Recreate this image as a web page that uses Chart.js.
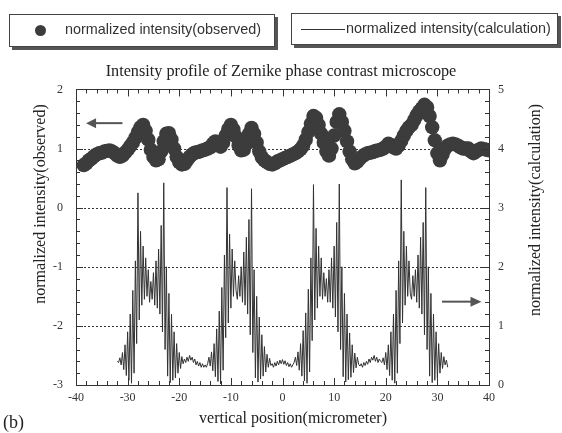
<!DOCTYPE html>
<html>
<head>
<meta charset="utf-8">
<script src="https://cdn.jsdelivr.net/npm/chart.js"></script>
<style>
  body { margin: 0; background: #fff; }
  #wrap { position: relative; width: 562px; height: 433px; }
  .lg {
    position: absolute; background: #fff; border: 1px solid #444;
    box-shadow: 3px 3px 0 #555; font: 14.4px "Liberation Sans", Arial, sans-serif; color: #333;
  }
  .lg span { position: absolute; top: 6px; white-space: nowrap; }
</style>
</head>
<body>
<div id="wrap">
  <canvas id="chart" width="562" height="433"></canvas>
  <div class="lg" style="left:9px; top:14px; width:264px; height:31px;">
    <div style="position:absolute; left:25px; top:10px; width:11px; height:11px; border-radius:50%; background:#3c3c3c;"></div>
    <span style="left:55px;">normalized intensity(observed)</span>
  </div>
  <div class="lg" style="left:291px; top:13px; width:265px; height:30px;">
    <div style="position:absolute; left:9px; top:15px; width:44px; height:1px; background:#333;"></div>
    <span style="left:54px;">normalized intensity(calculation)</span>
  </div>
</div>
<script>
// observed intensity (left axis), one reading every 0.5 micrometer from -38.5
const obsStart = -38.5;
const obsStep = 0.5;
const obsY = [
  0.72, 0.75, 0.80, 0.83, 0.87, 0.90, 0.92, 0.93, 0.95, 0.96,   // -38.5
  0.97, 0.95, 0.92, 0.88, 0.86, 0.88, 0.93, 0.98, 1.04, 1.10,   // -33.5
  1.18, 1.28, 1.36, 1.40, 1.30, 1.15, 0.98, 0.86, 0.80, 0.82,   // -28.5
  0.95, 1.12, 1.25, 1.26, 1.15, 1.00, 0.86, 0.77, 0.73, 0.74,   // -23.5
  0.80, 0.86, 0.90, 0.93, 0.94, 0.95, 0.97, 0.98, 1.00, 1.02,   // -18.5
  1.08, 1.12, 1.06, 1.03, 1.10, 1.22, 1.33, 1.40, 1.32, 1.20,   // -13.5
  1.05, 0.97, 0.98, 1.08, 1.25, 1.35, 1.25, 1.10, 0.95, 0.85,   // -8.5
  0.80, 0.77, 0.74, 0.73, 0.75, 0.78, 0.80, 0.82, 0.84, 0.86,   // -3.5
  0.88, 0.90, 0.92, 0.95, 0.99, 1.05, 1.15, 1.28, 1.42, 1.55,   // 1.5
  1.52, 1.40, 1.25, 1.10, 0.95, 0.88, 1.00, 1.22, 1.45, 1.58,   // 6.5
  1.45, 1.30, 1.12, 0.95, 0.82, 0.75, 0.78, 0.83, 0.87, 0.90,   // 11.5
  0.92, 0.93, 0.94, 0.96, 0.97, 0.98, 1.00, 1.03, 1.08, 1.06,   // 16.5
  1.02, 1.00, 1.05, 1.13, 1.22, 1.30, 1.36, 1.40, 1.48, 1.56,   // 21.5
  1.63, 1.68, 1.74, 1.70, 1.55, 1.36, 1.14, 0.92, 0.80, 0.90,   // 26.5
  1.00, 1.05, 1.07, 1.08, 1.07, 1.05, 1.02, 1.00, 1.00, 1.00,   // 31.5
  0.95, 0.92, 0.95, 0.98, 1.00, 0.99, 0.98, 0.97                // 36.5
];

// calculated intensity (right axis), sampled every 0.25 micrometer from -32
const calcStart = -32;
const calcStep = 0.25;
const calcY = [
  0.40, 0.38, 0.46, 0.34,   // -32
  0.55, 0.26, 0.68, 0.16,   // -31
  0.90, 0.08, 1.20, 0.03,   // -30
  1.60, 0.20, 2.10, 0.70,   // -29
  3.25, 1.10, 2.60, 1.35,   // -28
  2.35, 1.45, 2.15, 1.50,   // -27
  1.95, 1.40, 1.75, 1.45,   // -26
  1.90, 1.35, 2.10, 1.30,   // -25
  2.30, 1.20, 2.70, 0.90,   // -24
  3.42, 0.60, 2.00, 0.15,   // -23
  1.55, 0.04, 1.20, 0.08,   // -22
  0.90, 0.12, 0.70, 0.20,   // -21
  0.55, 0.28, 0.48, 0.36,   // -20
  0.44, 0.38, 0.47, 0.40,   // -19
  0.50, 0.42, 0.47, 0.38,   // -18
  0.44, 0.34, 0.40, 0.32,   // -17
  0.38, 0.30, 0.36, 0.30,   // -16
  0.34, 0.30, 0.36, 0.47,   // -15
  0.32, 0.56, 0.24, 0.70,   // -14
  0.14, 0.95, 0.06, 1.25,   // -13
  0.02, 1.65, 0.25, 2.20,   // -12
  0.80, 3.34, 1.05, 2.55,   // -11
  1.30, 2.30, 1.50, 2.10,   // -10
  1.60, 1.45, 1.85, 1.50,   // -9
  2.00, 1.40, 2.25, 1.35,   // -8
  2.50, 1.20, 2.80, 0.85,   // -7
  3.32, 0.55, 1.95, 0.12,   // -6
  1.50, 0.05, 1.15, 0.10,   // -5
  0.85, 0.15, 0.65, 0.22,   // -4
  0.52, 0.30, 0.45, 0.33,   // -3
  0.36, 0.30, 0.38, 0.32,   // -2
  0.40, 0.34, 0.42, 0.36,   // -1
  0.43, 0.35, 0.41, 0.33,   // 0
  0.38, 0.31, 0.36, 0.30,   // 1
  0.34, 0.38, 0.47, 0.33,   // 2
  0.56, 0.25, 0.70, 0.15,   // 3
  0.92, 0.07, 1.22, 0.03,   // 4
  1.62, 0.22, 2.15, 0.75,   // 5
  3.39, 1.10, 2.65, 1.30,   // 6
  2.35, 1.50, 2.15, 1.45,   // 7
  1.90, 1.50, 1.80, 1.40,   // 8
  1.95, 1.40, 2.15, 1.30,   // 9
  2.35, 1.15, 2.75, 0.90,   // 10
  3.40, 0.60, 2.00, 0.14,   // 11
  1.55, 0.05, 1.20, 0.09,   // 12
  0.88, 0.13, 0.68, 0.21,   // 13
  0.54, 0.29, 0.47, 0.35,   // 14
  0.32, 0.36, 0.30, 0.38,   // 15
  0.33, 0.40, 0.35, 0.44,   // 16
  0.38, 0.47, 0.42, 0.50,   // 17
  0.40, 0.47, 0.38, 0.44,   // 18
  0.40, 0.38, 0.46, 0.34,   // 19
  0.55, 0.26, 0.68, 0.16,   // 20
  0.90, 0.08, 1.20, 0.03,   // 21
  1.60, 0.20, 2.10, 0.70,   // 22
  3.47, 1.05, 2.60, 1.35,   // 23
  2.35, 1.50, 2.10, 1.55,   // 24
  1.45, 1.85, 1.50, 1.95,   // 25
  1.40, 2.20, 1.30, 2.50,   // 26
  1.20, 2.75, 0.85, 3.34,   // 27
  0.60, 2.00, 0.15, 1.55,   // 28
  0.04, 1.20, 0.08, 0.90,   // 29
  0.12, 0.70, 0.20, 0.55,   // 30
  0.28, 0.48, 0.34, 0.42,   // 31
  0.30                      // 32
];

// axis ranges and dotted reference levels (left axis units)
const xRange = [-40, 40];
const leftRange = [-3, 2];
const rightRange = [0, 5];
const dottedLevels = [1, 0, -1, -2];

const serif = "'Liberation Serif', 'Times New Roman', serif";
const ink = '#333';

const obsData = obsY.map((y, i) => ({ x: obsStart + i * obsStep, y: y }));
const calcData = calcY.map((y, i) => ({ x: calcStart + i * calcStep, y: y }));

// frame, inward ticks, dotted levels, arrows and axis titles
const decor = {
  id: 'decor',
  beforeDatasetsDraw(chart) {
    const { ctx, chartArea: a, scales } = chart;
    ctx.save();
    ctx.strokeStyle = ink;
    ctx.lineWidth = 1;
    ctx.setLineDash([2, 2]);
    dottedLevels.forEach((v) => {
      const y = Math.round(scales.yL.getPixelForValue(v)) + 0.5;
      ctx.beginPath();
      ctx.moveTo(a.left, y);
      ctx.lineTo(a.right, y);
      ctx.stroke();
    });
    ctx.restore();
  },
  afterDatasetsDraw(chart) {
    const { ctx, chartArea: a, scales } = chart;
    ctx.save();
    ctx.strokeStyle = ink;
    ctx.lineWidth = 1;
    ctx.strokeRect(Math.round(a.left) + 0.5, Math.round(a.top) + 0.5,
      Math.round(a.right - a.left), Math.round(a.bottom - a.top));

    ctx.beginPath();
    for (let v = xRange[0]; v <= xRange[1]; v += 2) {
      const x = Math.round(scales.x.getPixelForValue(v)) + 0.5;
      const len = v % 10 === 0 ? 7 : 4;
      ctx.moveTo(x, a.bottom); ctx.lineTo(x, a.bottom - len);
      ctx.moveTo(x, a.top); ctx.lineTo(x, a.top + len);
    }
    for (let i = 0; i <= 25; i++) {
      const len = i % 5 === 0 ? 7 : 4;
      const yl = Math.round(scales.yL.getPixelForValue(leftRange[0] + i * 0.2)) + 0.5;
      ctx.moveTo(a.left, yl); ctx.lineTo(a.left + len, yl);
      const yr = Math.round(scales.yR.getPixelForValue(rightRange[0] + i * 0.2)) + 0.5;
      ctx.moveTo(a.right, yr); ctx.lineTo(a.right - len, yr);
    }
    ctx.stroke();

    // arrows pointing to each axis
    ctx.strokeStyle = '#555';
    ctx.fillStyle = '#555';
    ctx.lineWidth = 2;
    const arrow = (x1, x2, y, head) => {
      ctx.beginPath();
      ctx.moveTo(x1, y); ctx.lineTo(x2, y);
      ctx.stroke();
      const dir = Math.sign(x2 - x1);
      ctx.beginPath();
      ctx.moveTo(x2 + dir * head, y);
      ctx.lineTo(x2 - dir * 2, y - 5);
      ctx.lineTo(x2 - dir * 2, y + 5);
      ctx.closePath();
      ctx.fill();
    };
    arrow(scales.x.getPixelForValue(-31), scales.x.getPixelForValue(-36.5), scales.yL.getPixelForValue(1.43), 8);
    arrow(scales.x.getPixelForValue(30.9), scales.x.getPixelForValue(36.8), scales.yR.getPixelForValue(1.41), 9);
    ctx.restore();
  },
  afterDraw(chart) {
    const { ctx } = chart;
    ctx.save();
    ctx.fillStyle = '#222';
    ctx.textAlign = 'center';
    ctx.textBaseline = 'middle';
    ctx.font = '16px ' + serif;
    ctx.fillText('vertical position(micrometer)', 293, 419);
    ctx.translate(41, 204);
    ctx.rotate(-Math.PI / 2);
    ctx.fillText('normalized intensity(observed)', 0, 0);
    ctx.restore();
    ctx.save();
    ctx.fillStyle = '#222';
    ctx.textAlign = 'center';
    ctx.textBaseline = 'middle';
    ctx.font = '16px ' + serif;
    ctx.translate(536, 210);
    ctx.rotate(-Math.PI / 2);
    ctx.fillText('normalized intensity(calculation)', 0, 0);
    ctx.restore();
    ctx.save();
    ctx.fillStyle = '#222';
    ctx.font = '18px ' + serif;
    ctx.textBaseline = 'middle';
    ctx.fillText('(b)', 3, 423);
    ctx.restore();
  }
};

const tickFont = { family: serif, size: 12 };

new Chart(document.getElementById('chart'), {
  type: 'scatter',
  data: {
    datasets: [
      {
        label: 'normalized intensity(observed)',
        data: obsData,
        yAxisID: 'yL',
        showLine: false,
        pointRadius: 7.2,
        pointBorderWidth: 0,
        backgroundColor: '#3c3c3c',
      },
      {
        label: 'normalized intensity(calculation)',
        data: calcData,
        yAxisID: 'yR',
        showLine: true,
        pointRadius: 0,
        borderColor: '#333',
        borderWidth: 1,
        tension: 0,
      },
    ],
  },
  options: {
    responsive: false,
    animation: false,
    events: [],
    layout: { padding: 0 },
    plugins: {
      legend: { display: false },
      tooltip: { enabled: false },
      title: {
        display: true,
        text: 'Intensity profile of Zernike phase contrast microscope',
        color: '#222',
        font: { family: serif, size: 16.2, weight: 'normal' },
        padding: { top: 62, bottom: 8 },
      },
    },
    scales: {
      x: {
        type: 'linear',
        min: xRange[0],
        max: xRange[1],
        grid: { display: false, drawTicks: false },
        border: { display: false },
        ticks: { stepSize: 10, padding: 6, color: ink, font: tickFont, maxRotation: 0 },
        afterFit: (s) => { s.height = 48; },
      },
      yL: {
        position: 'left',
        min: leftRange[0],
        max: leftRange[1],
        grid: { display: false, drawTicks: false },
        border: { display: false },
        ticks: { stepSize: 1, padding: 13, color: ink, font: tickFont },
        afterFit: (s) => { s.width = 76; },
      },
      yR: {
        position: 'right',
        min: rightRange[0],
        max: rightRange[1],
        grid: { display: false, drawTicks: false },
        border: { display: false },
        ticks: { stepSize: 1, padding: 9, color: ink, font: tickFont },
        afterFit: (s) => { s.width = 73; },
      },
    },
  },
  plugins: [decor],
});
</script>
</body>
</html>
